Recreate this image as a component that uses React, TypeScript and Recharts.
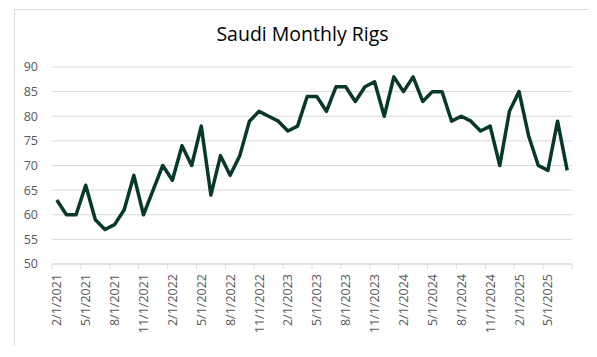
import React from "react";
import {
  LineChart,
  Line,
  XAxis,
  YAxis,
  CartesianGrid,
} from "recharts";

// monthly labels, Feb 2021 .. Jul 2025
const months = [
  "2/1/2021", "3/1/2021", "4/1/2021", "5/1/2021", "6/1/2021", "7/1/2021",
  "8/1/2021", "9/1/2021", "10/1/2021", "11/1/2021", "12/1/2021", "1/1/2022",
  "2/1/2022", "3/1/2022", "4/1/2022", "5/1/2022", "6/1/2022", "7/1/2022",
  "8/1/2022", "9/1/2022", "10/1/2022", "11/1/2022", "12/1/2022", "1/1/2023",
  "2/1/2023", "3/1/2023", "4/1/2023", "5/1/2023", "6/1/2023", "7/1/2023",
  "8/1/2023", "9/1/2023", "10/1/2023", "11/1/2023", "12/1/2023", "1/1/2024",
  "2/1/2024", "3/1/2024", "4/1/2024", "5/1/2024", "6/1/2024", "7/1/2024",
  "8/1/2024", "9/1/2024", "10/1/2024", "11/1/2024", "12/1/2024", "1/1/2025",
  "2/1/2025", "3/1/2025", "4/1/2025", "5/1/2025", "6/1/2025", "7/1/2025",
];

const rigs = [
  63, 60, 60, 66, 59, 57, 58, 61, 68, 60, 65, 70,
  67, 74, 70, 78, 64, 72, 68, 72, 79, 81, 80, 79,
  77, 78, 84, 84, 81, 86, 86, 83, 86, 87, 80, 88,
  85, 88, 83, 85, 85, 79, 80, 79, 77, 78, 70, 81,
  85, 76, 70, 69, 79, 69,
];

const yTicks = [50, 55, 60, 65, 70, 75, 80, 85, 90];

const data = months.map((m, i) => ({ i, date: m, rigs: rigs[i] }));

// tick marks sit between categories, every third month
const boundaryTicks: number[] = [];
for (let b = -0.5; b <= months.length - 0.5; b += 3) boundaryTicks.push(b);

const W = 575;
const H = 336;
const margin = { top: 57, right: 18, left: 0, bottom: 7 };
const yAxisWidth = 37;
const halfCat = (W - margin.right - yAxisWidth) / months.length / 2;

const font = "'Open Sans', 'Noto Sans', sans-serif";
const textColor = "#595959";
const gridColor = "#d9d9d9";

const XTick = (props: any) => {
  const { x, y, payload } = props;
  const label = months[payload.value + 0.5];
  if (label === undefined) return null;
  const cx = x + halfCat;
  return (
    <text
      x={cx}
      y={y}
      transform={`rotate(-90 ${cx} ${y})`}
      textAnchor="end"
      dominantBaseline="central"
      fill={textColor}
      fontSize={12.5}
      fontFamily={font}
    >
      {label}
    </text>
  );
};

const App: React.FC = () => {
  return (
    <div
      style={{
        position: "relative",
        left: 6,
        top: 1,
        width: W + 2,
        height: H + 2,
        boxSizing: "border-box",
        border: `1px solid ${gridColor}`,
        background: "#fff",
      }}
    >
      <div
        style={{
          position: "absolute",
          top: 10,
          left: 0,
          width: W,
          textAlign: "center",
          fontFamily: font,
          fontSize: 19.5,
          color: "#000",
        }}
      >
        Saudi Monthly Rigs
      </div>
      <LineChart width={W} height={H} data={data} margin={margin}>
        <CartesianGrid vertical={false} stroke={gridColor} />
        <XAxis
          dataKey="i"
          type="number"
          domain={[-0.5, months.length - 0.5]}
          ticks={boundaryTicks}
          interval={0}
          height={75}
          tickSize={5}
          tickMargin={5}
          stroke={gridColor}
          tickLine={{ stroke: gridColor }}
          axisLine={{ stroke: gridColor }}
          tick={<XTick />}
        />
        <YAxis
          width={yAxisWidth}
          domain={[50, 90]}
          ticks={yTicks}
          interval={0}
          axisLine={false}
          tickLine={false}
          tickSize={6}
          tickMargin={8}
          tick={{ fill: textColor, fontSize: 12.5, fontFamily: font }}
        />
        <Line
          type="linear"
          dataKey="rigs"
          stroke="#08382b"
          strokeWidth={3.5}
          strokeLinejoin="round"
          dot={false}
          activeDot={false}
          isAnimationActive={false}
        />
      </LineChart>
    </div>
  );
};

export default App;
